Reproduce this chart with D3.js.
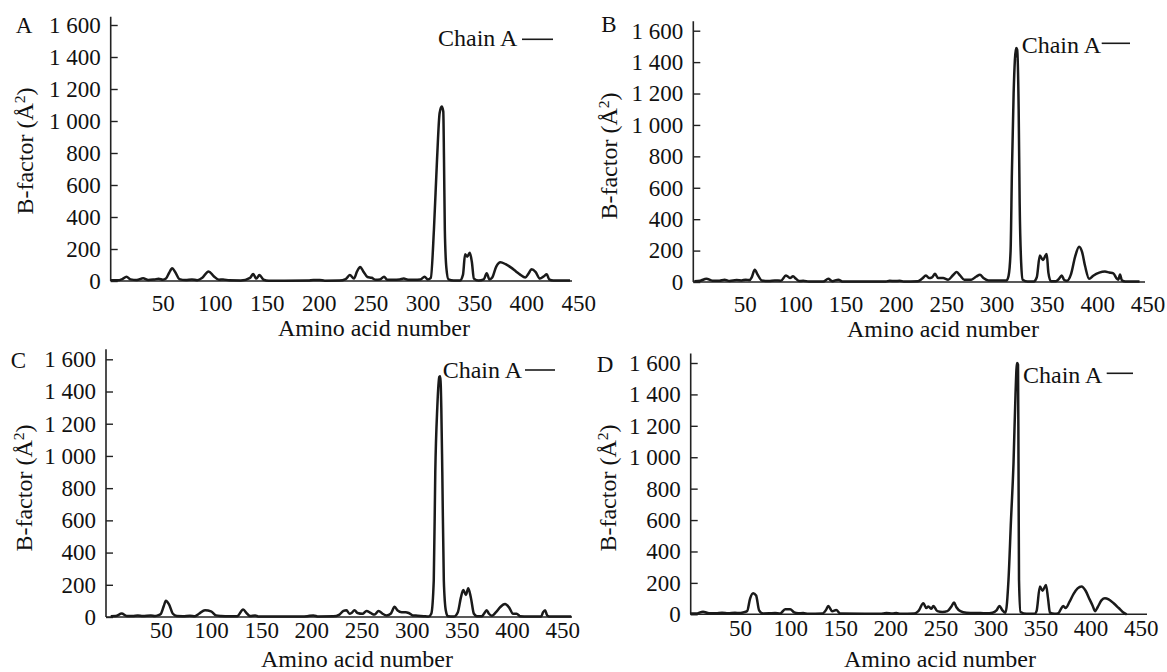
<!DOCTYPE html>
<html><head><meta charset="utf-8">
<script src="https://cdn.jsdelivr.net/npm/d3@7"></script>
<style>
body{margin:0;background:#fff}
svg{display:block}
text{font-family:"Liberation Serif","Times New Roman",serif;fill:#111}
</style>
</head><body>
<svg id="chart" width="1167" height="672"></svg>
<script>
// ---------- data ----------
const xTickValues = [50,100,150,200,250,300,350,400,450];
const yTickValues = [0,200,400,600,800,1000,1200,1400,1600];
const panelLetters = ["A","B","C","D"];
const legendLabel = "Chain A";
const xAxisTitle = "Amino acid number";
const yAxisTitle = "B-factor (Å";
const yAxisTitleSup = "2";

const residuesA = [0,6,11,15,19,25,31,36,42,46,50,53,56,59,62,66,72,78,83,88,94,99,104,108,114,125,134,137,140,143,147,152,190,195,201,206,220,226,230,234,237,240,243,247,251,255,259,263,266,272,278,282,286,292,298,302,305,308,311,314,316.5,318.5,320,320.7,321.5,323,325,330,336,339,341,343,345.5,347.5,349.5,354,359,361.8,364.5,367,371,375,380,385,390,394,399,402,405,409,413,417,419.6,422,426,442];
const bfactorA  = [5,4,12,27,10,6,17,6,10,14,8,15,50,79,55,12,6,10,5,20,60,30,8,10,4,3,20,43,15,37,8,2,3,7,6,2,3,12,37,15,60,88,60,25,20,8,10,27,8,8,10,15,8,8,10,27,10,20,320,760,1050,1090,1060,760,320,80,10,3,3,40,167,152,177,120,15,3,10,48,10,20,90,117,105,85,60,40,22,45,73,55,15,30,42,10,3,3];

const residuesB = [0,6,12,18,25,30,35,42,47,51,55,57,60,63,67,74,80,86,91,95,98,101,104,108,114,128,133,137,143,147,190,194,199,204,208,222,226,230,233,236,239,242,247,252,257,260.5,264,268,275,280,283.6,287,292,300,306,310,312,314,315.3,317,319.5,320.5,322,323,324.5,326,331,337,340,343,346,349.8,351.5,354,359,362,364.7,367,370,374,378,382,385,388,392,396,402,407.7,412,416,419,421,422.6,424.5,428,442];
const bfactorB  = [5,8,21,8,8,15,6,12,10,15,12,30,78,45,10,6,10,8,42,25,36,20,6,8,3,3,20,5,15,3,3,8,6,8,3,5,20,42,25,30,52,25,25,15,45,63,40,15,15,35,46,25,10,10,10,10,40,200,700,1200,1490,1480,1100,500,120,15,3,3,30,168,140,179,60,5,5,20,42,15,8,50,160,225,190,100,20,40,60,67,60,55,25,15,48,10,3,3];

const residuesC = [0,5,11,16,22,27,32,40,44,47,50,53,55,58,62,66,72,79,84,88,94,100,105,110,118,126,132,136,139,144,147,190,196,202,207,222,228,232,235,238,240,243,246,251,255,259,263,267,271,275,279,283,286,290,294,297,301,306,312,317,319.5,322,323.5,325.5,327.5,328.5,329.5,330.5,332,334,336,342,346,349,351.4,354,356.4,359,362,365,370,372,374.7,377,380,384,388,393,397,401,404.6,408,416,429,431,433,435,438,459];
const bfactorC  = [5,6,21,6,6,10,6,10,6,10,20,70,101,80,20,6,5,8,5,20,42,35,10,6,4,4,46,20,6,10,3,3,5,10,3,4,15,38,42,20,25,42,25,20,38,25,15,38,20,10,20,63,40,30,30,25,10,8,5,3,20,230,900,1300,1490,1495,1300,900,230,40,5,3,30,120,168,137,179,120,20,5,5,20,42,20,8,30,60,80,60,20,20,5,3,3,30,42,10,3,3];

const residuesD = [0,6,13,19,26,32,38,45,49,53,57,60,63,66,69,73,79,85,90,95,100,104,108,113,118,132,136,138,142,146,150,190,196,202,206,210,224,228,233,236,238,241,243,247,252,257,261,263.6,266,270,276,284,290,296,302,306,309,312,315,318,320.5,323,325,326.5,327.5,328,328.5,330,336,344,346,349.4,352,355.4,357.5,359.4,364,368,370,372.7,375,379,383,387,391,395,399,402,404.4,407,411,414.3,418,423,428,432,436];
const bfactorD  = [5,5,17,6,6,10,6,10,8,12,20,100,134,120,25,5,6,8,5,32,32,12,6,8,3,5,30,53,20,28,5,3,8,5,8,3,5,20,70,40,50,35,53,20,15,20,50,75,45,20,10,8,8,6,10,25,53,25,10,220,600,960,1400,1600,1590,960,220,15,3,3,20,177,150,187,100,10,3,8,30,53,40,80,130,165,177,150,95,55,20,45,90,102,95,70,40,15,0];

// ---------- layout (positions only) ----------
const panels = [
  {letter:panelLetters[0], res:residuesA, val:bfactorA, yAxisX:110.7, x0:110.9, x450:578.3, xAxisEnd:572, yZero:281, y1600:25, yTopVal:1652,
   letterPos:[24,33], yTitlePos:[25,151], xTitlePos:[374,336], xPad:14, legX:438, legY:46, legLine:[522,553,39.3]},
  {letter:panelLetters[1], res:residuesB, val:bfactorB, yAxisX:693.3, x0:694.3, x450:1147.6, xAxisEnd:1145, yZero:282, y1600:30.7, yTopVal:1660,
   letterPos:[609,32], yTitlePos:[609,156], xTitlePos:[943,337], xPad:14, legX:1021.7, legY:53, legLine:[1101.7,1130,43.3]},
  {letter:panelLetters[2], res:residuesC, val:bfactorC, yAxisX:106, x0:110.7, x450:562.2, xAxisEnd:572, yZero:617, y1600:359.3, yTopVal:1662,
   letterPos:[18.5,368], yTitlePos:[24,488], xTitlePos:[357,667], xPad:5, legX:442.7, legY:378, legLine:[525,555,370]},
  {letter:panelLetters[3], res:residuesD, val:bfactorD, yAxisX:690.7, x0:690, x450:1140.7, xAxisEnd:1147, yZero:614.3, y1600:363, yTopVal:1660,
   letterPos:[605,372], yTitlePos:[608,488], xTitlePos:[940,667], xPad:5, legX:1023, legY:383, legLine:[1106.7,1133,373.3]}
];

const FS_TICK = 23, FS_TITLE = 24;
const fmt = d3.formatLocale({decimal:".", thousands:" ", grouping:[3], currency:["",""]}).format(",");
const svg = d3.select("#chart");

panels.forEach(p => {
  const x = d3.scaleLinear().domain([0,450]).range([p.x0, p.x450]);
  const y = d3.scaleLinear().domain([0,1600]).range([p.yZero, p.y1600]);
  const g = svg.append("g");

  // y axis
  const yAx = g.append("g").attr("transform", `translate(${p.yAxisX},0)`)
    .call(d3.axisLeft(y).tickValues(yTickValues).tickFormat(fmt).tickSizeInner(-7).tickSizeOuter(0).tickPadding(10));
  yAx.select(".domain").remove();
  yAx.selectAll(".tick line").attr("stroke","#222").attr("stroke-width",1.4);
  yAx.selectAll("text").attr("font-size",FS_TICK).attr("font-family",'"Liberation Serif",serif').attr("fill","#111");
  g.append("line").attr("x1",p.yAxisX).attr("x2",p.yAxisX).attr("y1",y(p.yTopVal)).attr("y2",p.yZero)
    .attr("stroke","#222").attr("stroke-width",1.6);

  // x axis
  const xAx = g.append("g").attr("transform", `translate(0,${p.yZero})`)
    .call(d3.axisBottom(x).tickValues(xTickValues).tickSize(0).tickPadding(p.xPad));
  xAx.select(".domain").remove();
  xAx.selectAll("text").attr("font-size",FS_TICK).attr("font-family",'"Liberation Serif",serif').attr("fill","#111");
  g.append("line").attr("x1",p.yAxisX).attr("x2",p.xAxisEnd).attr("y1",p.yZero).attr("y2",p.yZero)
    .attr("stroke","#222").attr("stroke-width",1.6);

  // data line
  const pts = p.res.map((r,i)=>[r,p.val[i]]);
  g.append("path").datum(pts)
    .attr("d", d3.line().x(d=>x(d[0])).y(d=>y(d[1])).curve(d3.curveMonotoneX))
    .attr("fill","none").attr("stroke","#1a1a1a").attr("stroke-width",2.5).attr("stroke-linejoin","round");

  // panel letter
  g.append("text").attr("x",p.letterPos[0]).attr("y",p.letterPos[1]).attr("text-anchor","middle")
    .attr("font-size",FS_TICK).text(p.letter);

  // y title
  const yt = g.append("text").attr("transform",`translate(${p.yTitlePos[0]},${p.yTitlePos[1]}) rotate(-90)`)
    .attr("text-anchor","middle").attr("dy","0.35em").attr("font-size",FS_TITLE);
  yt.append("tspan").text(yAxisTitle);
  yt.append("tspan").attr("font-size",FS_TITLE*0.65).attr("baseline-shift","super").text(yAxisTitleSup);
  yt.append("tspan").text(")");

  // x title
  g.append("text").attr("x",p.xTitlePos[0]).attr("y",p.xTitlePos[1]).attr("text-anchor","middle")
    .attr("font-size",FS_TITLE).text(xAxisTitle);

  // legend
  g.append("text").attr("x",p.legX).attr("y",p.legY).attr("font-size",FS_TITLE).text(legendLabel);
  g.append("line").attr("x1",p.legLine[0]).attr("x2",p.legLine[1]).attr("y1",p.legLine[2]).attr("y2",p.legLine[2])
    .attr("stroke","#1a1a1a").attr("stroke-width",1.6);
});
</script>
</body></html>
